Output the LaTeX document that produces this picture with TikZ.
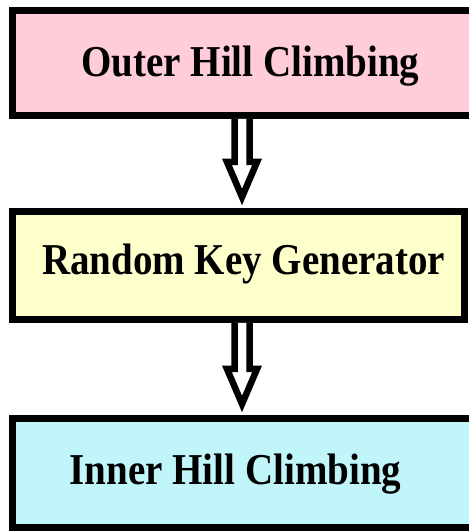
\documentclass[tikz,border=0pt]{standalone}
\usepackage{fontspec}
\setmainfont{Liberation Serif}
\usetikzlibrary{calc}

\definecolor{hcpink}{RGB}{255,204,217}
\definecolor{hcyellow}{RGB}{255,255,204}
\definecolor{hccyan}{RGB}{192,245,250}

\tikzset{
  stage/.style={draw=black,line width=7pt,rectangle,inner sep=0pt},
  stagetext/.style={anchor=base,font=\bfseries\fontsize{39}{44}\selectfont,yscale=1.13,transform shape},
  hollow/.style={draw=black,fill=white,line width=6.5pt}
}

% open block arrow from the bottom of one box to the top of the next
\newcommand{\hollowarrow}[2]{%
  \draw[hollow] let \p1=(242,0 |- #1.south), \p2=(#2.north) in
    (\x1-7.5pt,\y1) -- (\x1-7.5pt,\y2+46pt) -- (\x1-15pt,\y2+46pt) -- (\x1,\y2+11pt)
    -- (\x1+15pt,\y2+46pt) -- (\x1+7.5pt,\y2+46pt) -- (\x1+7.5pt,\y1);}

\begin{document}
\begin{tikzpicture}[x=1pt,y=1pt]
    \clip (0,0) rectangle (469,531);
    \fill[white] (0,0) rectangle (469,531);
    % the three stages
    \node[stage,fill=hcpink,minimum width=482.5pt,minimum height=105pt] (outer) at (253.75,468) {};
    \node[stage,fill=hcyellow,minimum width=452pt,minimum height=108pt] (keygen) at (238.5,265.5) {};
    \node[stage,fill=hccyan,minimum width=482.5pt,minimum height=109pt] (inner) at (253.75,58) {};
    \node[stagetext] (outertxt) at (250.4,454) {Outer Hill Climbing};
    \node[stagetext] (keygentxt) at (243.5,256) {Random Key Generator};
    \node[stagetext] (innertxt) at (235.4,46) {Inner Hill Climbing};
    % arrows
    \hollowarrow{outer}{keygen}
    \hollowarrow{keygen}{inner}
\end{tikzpicture}
\end{document}
